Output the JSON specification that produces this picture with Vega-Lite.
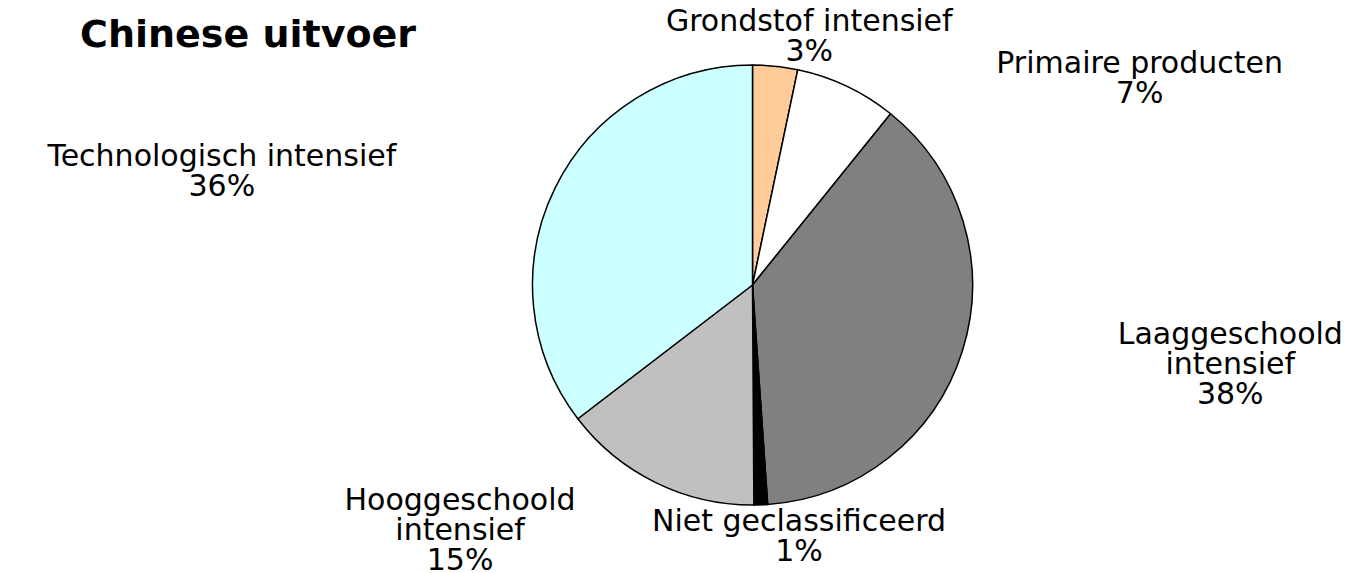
{
  "$schema": "https://vega.github.io/schema/vega-lite/v6.json",
  "width": 1229,
  "height": 570,
  "autosize": {"type": "none"},
  "padding": {"left": 138, "top": 0, "right": 0, "bottom": 3},
  "background": "white",
  "title": {
    "text": "Chinese uitvoer",
    "anchor": "start",
    "frame": "group",
    "dx": -58,
    "offset": -92,
    "font": "DejaVu Sans",
    "fontWeight": "bold",
    "fontSize": 38,
    "color": "#000000"
  },
  "data": {
    "values": [
      {"categorie": "Grondstof intensief", "aandeel": 3.3, "volgorde": 1, "label": "Grondstof intensief\n3%"},
      {"categorie": "Primaire producten", "aandeel": 7.5, "volgorde": 2, "label": "Primaire producten\n7%"},
      {"categorie": "Laaggeschoold intensief", "aandeel": 38.1, "volgorde": 3, "label": "Laaggeschoold\nintensief\n38%"},
      {"categorie": "Niet geclassificeerd", "aandeel": 1.0, "volgorde": 4, "label": "Niet geclassificeerd\n1%"},
      {"categorie": "Hooggeschoold intensief", "aandeel": 14.7, "volgorde": 5, "label": "Hooggeschoold\nintensief\n15%"},
      {"categorie": "Technologisch intensief", "aandeel": 35.4, "volgorde": 6, "label": "Technologisch intensief\n36%"}
    ]
  },
  "encoding": {
    "theta": {"field": "aandeel", "type": "quantitative", "stack": true},
    "order": {"field": "volgorde", "type": "quantitative"}
  },
  "layer": [
    {
      "mark": {"type": "arc", "outerRadius": 220, "stroke": "#000000", "strokeWidth": 1.5},
      "encoding": {
        "color": {
          "field": "categorie",
          "type": "nominal",
          "legend": null,
          "scale": {
            "domain": ["Grondstof intensief", "Primaire producten", "Laaggeschoold intensief", "Niet geclassificeerd", "Hooggeschoold intensief", "Technologisch intensief"],
            "range": ["#FFCC99", "#FFFFFF", "#808080", "#000000", "#C0C0C0", "#CCFFFF"]
          }
        }
      }
    },
    {
      "mark": {"type": "text", "radius": 249, "dx": 31, "dy": -15, "font": "DejaVu Sans", "fontSize": 30, "lineHeight": 30, "lineBreak": "\n", "align": "center", "baseline": "middle", "color": "#000000"},
      "encoding": {
        "detail": {"field": "categorie", "type": "nominal"},
        "text": {"condition": {"test": "datum.categorie === 'Grondstof intensief'", "field": "label"}, "value": ""}
      }
    },
    {
      "mark": {"type": "text", "radius": 250, "dx": 280, "dy": 5, "font": "DejaVu Sans", "fontSize": 30, "lineHeight": 30, "lineBreak": "\n", "align": "center", "baseline": "middle", "color": "#000000"},
      "encoding": {
        "detail": {"field": "categorie", "type": "nominal"},
        "text": {"condition": {"test": "datum.categorie === 'Primaire producten'", "field": "label"}, "value": ""}
      }
    },
    {
      "mark": {"type": "text", "radius": 265, "dx": 225, "dy": -30, "font": "DejaVu Sans", "fontSize": 30, "lineHeight": 30, "lineBreak": "\n", "align": "center", "baseline": "middle", "color": "#000000"},
      "encoding": {
        "detail": {"field": "categorie", "type": "nominal"},
        "text": {"condition": {"test": "datum.categorie === 'Laaggeschoold intensief'", "field": "label"}, "value": ""}
      }
    },
    {
      "mark": {"type": "text", "radius": 252, "dx": 37, "dy": -15, "font": "DejaVu Sans", "fontSize": 30, "lineHeight": 30, "lineBreak": "\n", "align": "center", "baseline": "middle", "color": "#000000"},
      "encoding": {
        "detail": {"field": "categorie", "type": "nominal"},
        "text": {"condition": {"test": "datum.categorie === 'Niet geclassificeerd'", "field": "label"}, "value": ""}
      }
    },
    {
      "mark": {"type": "text", "radius": 276, "dx": -171, "dy": -32, "font": "DejaVu Sans", "fontSize": 30, "lineHeight": 30, "lineBreak": "\n", "align": "center", "baseline": "middle", "color": "#000000"},
      "encoding": {
        "detail": {"field": "categorie", "type": "nominal"},
        "text": {"condition": {"test": "datum.categorie === 'Hooggeschoold intensief'", "field": "label"}, "value": ""}
      }
    },
    {
      "mark": {"type": "text", "radius": 255, "dx": -302, "dy": -15, "font": "DejaVu Sans", "fontSize": 30, "lineHeight": 30, "lineBreak": "\n", "align": "center", "baseline": "middle", "color": "#000000"},
      "encoding": {
        "detail": {"field": "categorie", "type": "nominal"},
        "text": {"condition": {"test": "datum.categorie === 'Technologisch intensief'", "field": "label"}, "value": ""}
      }
    }
  ]
}
